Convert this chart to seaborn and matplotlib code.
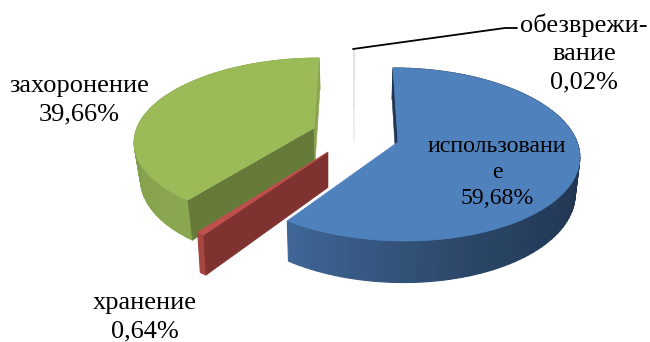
import numpy as np
import matplotlib
matplotlib.use("Agg")
import matplotlib.pyplot as plt
import seaborn as sns

# --- data ---
categories = ["использовани\nе", "хранение", "захоронение", "обезврежи-\nвание"]
shares = [59.68, 0.64, 39.66, 0.02]

# --- style ---
top_colors = ["#4f81bd", "#c0504d", "#9bbb59", "#e4e4e4"]
rim_stops = [["#1f3650", "#1d334b", "#1f3450", "#2a4566", "#3f6697"],
             ["#a64542", "#a64542"],
             ["#8aa84f", "#7f9b49", "#86a24d"],
             ["#e4e4e4", "#e4e4e4"]]
start_face = ["#1f3552", "#7f3230", "#667a39", "#e4e4e4"]
end_face = [None, None, "#8aa450", None]
# layout of each exploded slice, in figure pixels
apex_x = [398, 328, 314, 354]
apex_y = [142, 152, 128, 107]
radius_x = [179, 179, 177, 179]
radius_y = [84.7, 89, 80, 65]
skew = [-5.7, 9, 6, 0]
taper = [0.98, 0.98, 0.97, 1.0]
drop_x = [-1, 0, 1, 0]
depth = 35.5
persp = 0.1445

label_x = [497, 145, 79, 584]
label_y = [172.5, 317.5, 100.5, 53.5]
font_px = [23.9, 26.4, 26.4, 26.4]
line_gap = [1.32, 1.39, 1.39, 1.39]
leader_x = [353, 505, 517]
leader_y = [49, 28, 28]

sns.set_theme(style="white")
plt.rcParams["font.family"] = ["Liberation Serif", "DejaVu Serif"]

fig = plt.figure(figsize=(6.5, 3.42), dpi=100)
ax = fig.add_axes([0, 0, 1, 1])
ax.set_xlim(0, 650)
ax.set_ylim(342, 0)
ax.axis("off")


def project(i, theta):
    """Top-face rim point of slice i for clockwise angle theta (radians from north)."""
    X, Y = np.sin(theta), np.cos(theta)
    w = 1 + persp * Y
    return (apex_x[i] + (radius_x[i] * X + skew[i] * Y) / w,
            apex_y[i] - radius_y[i] * Y / w,
            w)


def lower(i, x, y, w):
    """Matching point on the lower face."""
    return (apex_x[i] + drop_x[i] + (x - apex_x[i]) * taper[i], y + depth / w)


def draw_slice(i, a0, a1):
    n = max(int((a1 - a0) * 30), 3)
    th = np.linspace(a0, a1, 8 * n + 1)
    x, y, w = project(i, th)
    bx, by = lower(i, x, y, w)
    ax0, ay0 = float(apex_x[i]), float(apex_y[i])
    bax, bay = lower(i, ax0, ay0, 1.0)

    # side of the rim, shaded along the arc in broad bands
    shades = sns.blend_palette(rim_stops[i], n_colors=n)
    for k in range(n):
        lo, hi = 8 * k, 8 * (k + 1) + 1
        ax.fill(np.r_[x[lo:hi], bx[lo:hi][::-1]],
                np.r_[y[lo:hi], by[lo:hi][::-1]],
                color=shades[k], lw=0.8, zorder=2 + i * 0.01)
    # radial cut faces that face the viewer
    ax.fill([ax0, x[0], bx[0], bax], [ay0, y[0], by[0], bay],
            color=start_face[i], lw=0.4, zorder=3)
    if end_face[i]:
        ax.fill([ax0, x[-1], bx[-1], bax], [ay0, y[-1], by[-1], bay],
                color=end_face[i], lw=0.4, zorder=3)
    # top face
    ax.fill(np.r_[ax0, x], np.r_[ay0, y], color=top_colors[i], lw=0.5, zorder=4)


# back to front: sliver, green, red, blue; each one gets a higher base layer
fractions = np.array(shares) / sum(shares)
edges = np.r_[0, np.cumsum(fractions)] * 2 * np.pi
for i in [3, 2, 1, 0]:
    before = len(ax.patches)
    draw_slice(i, edges[i], edges[i + 1])
    for p in ax.patches[before:]:
        p.set_zorder(p.get_zorder() + (3 - i) * 10)

ax.plot(leader_x, leader_y, color="black", lw=1.3, zorder=60, solid_capstyle="round")

for i, name in enumerate(categories):
    value = f"{shares[i]:.2f}".replace(".", ",") + "%"
    ax.text(label_x[i], label_y[i], f"{name}\n{value}", ha="center", va="center",
            fontsize=font_px[i] * 0.72, color="black", linespacing=line_gap[i], zorder=70)

fig.savefig("out.png", dpi=100)
